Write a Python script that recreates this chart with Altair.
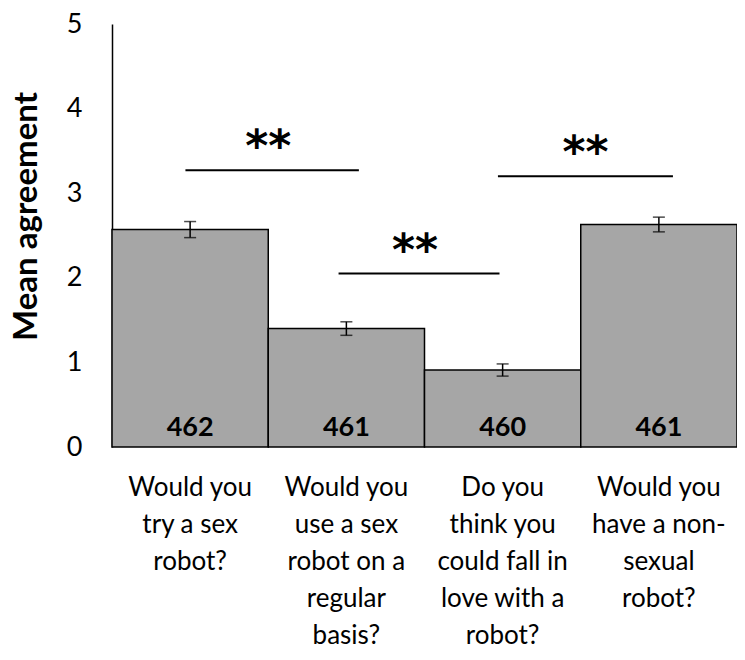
import altair as alt
import pandas as pd

categories = [
    "Would you\ntry a sex\nrobot?",
    "Would you\nuse a sex\nrobot on a\nregular\nbasis?",
    "Do you\nthink you\ncould fall in\nlove with a\nrobot?",
    "Would you\nhave a non-\nsexual\nrobot?",
]
means = [2.57, 1.40, 0.91, 2.63]
errors = [0.095, 0.08, 0.072, 0.087]
counts = [462, 461, 460, 461]

sig_start = [0.47, 1.45, 2.47]
sig_end = [1.58, 2.48, 3.59]
sig_level = [3.27, 2.05, 3.20]
sig_star_x = [1.0, 1.94, 3.03]
sig_label = ["**", "**", "**"]

FONT = "Lato"

bars = pd.DataFrame({
    "cat": categories,
    "x0": [i for i in range(len(means))],
    "x1": [i + 1 for i in range(len(means))],
    "xc": [i + 0.5 for i in range(len(means))],
    "mean": means,
    "lo": [m - e for m, e in zip(means, errors)],
    "hi": [m + e for m, e in zip(means, errors)],
    "n": counts,
    "zero": [0] * len(means),
})
sig = pd.DataFrame({
    "s": sig_start, "e": sig_end, "y": sig_level,
    "sx": sig_star_x, "lab": sig_label,
})

xs = alt.Scale(domain=[0, 4], nice=False, zero=False)
ys = alt.Scale(domain=[0, 5], nice=False)

base = alt.Chart(bars)

bar = base.mark_rect(fill="#a6a6a6", stroke="black", strokeWidth=1.5).encode(
    x=alt.X("x0:Q", scale=xs, axis=None),
    x2="x1:Q",
    y=alt.Y("mean:Q", scale=ys, axis=alt.Axis(
        title="Mean agreement", values=[0, 1, 2, 3, 4, 5], format="d", grid=False, ticks=False,
        domain=True, domainColor="black", domainWidth=1.5,
        labelFont=FONT, labelFontSize=27, labelColor="black", labelPadding=30,
        titleFont=FONT, titleFontSize=33, titleFontWeight="bold", titleColor="black",
        titleAngle=270, titleX=-86, titleY=192, titleAlign="center", titleBaseline="middle",
    )),
    y2="zero:Q",
)

err = base.mark_rule(color="black", strokeWidth=1.5).encode(
    x=alt.X("xc:Q", scale=xs), y=alt.Y("lo:Q", scale=ys), y2="hi:Q")
cap_lo = base.mark_tick(color="black", orient="horizontal", size=12, thickness=1.5).encode(
    x=alt.X("xc:Q", scale=xs), y=alt.Y("lo:Q", scale=ys))
cap_hi = base.mark_tick(color="black", orient="horizontal", size=12, thickness=1.5).encode(
    x=alt.X("xc:Q", scale=xs), y=alt.Y("hi:Q", scale=ys))

ntext = base.mark_text(font=FONT, fontSize=27, fontWeight="bold", color="black",
                       baseline="bottom", dy=-5).encode(
    x=alt.X("xc:Q", scale=xs), y=alt.Y("zero:Q", scale=ys), text="n:N")

cat_text = base.mark_text(font=FONT, fontSize=26, color="black", baseline="top",
                          lineBreak="\n", lineHeight=37).encode(
    x=alt.X("xc:Q", scale=xs), y=alt.value(451), text="cat:N")

sbase = alt.Chart(sig)
sline = sbase.mark_rule(color="black", strokeWidth=2).encode(
    x=alt.X("s:Q", scale=xs), x2="e:Q", y=alt.Y("y:Q", scale=ys))
stars = sbase.mark_text(font="DejaVu Sans", fontSize=44, fontWeight="bold", color="black",
                        baseline="middle", dy=-22).encode(
    x=alt.X("sx:Q", scale=xs), y=alt.Y("y:Q", scale=ys), text="lab:N")

chart = alt.layer(bar, err, cap_lo, cap_hi, ntext, cat_text, sline, stars).properties(
    width=625, height=423,
    autosize=alt.AutoSizeParams(type="none"),
    padding={"left": 104, "top": 16, "right": 0, "bottom": 210},
).configure(background="white").configure_view(stroke=None)

chart.save("out.html", embed_options={"renderer": "svg", "actions": False})
